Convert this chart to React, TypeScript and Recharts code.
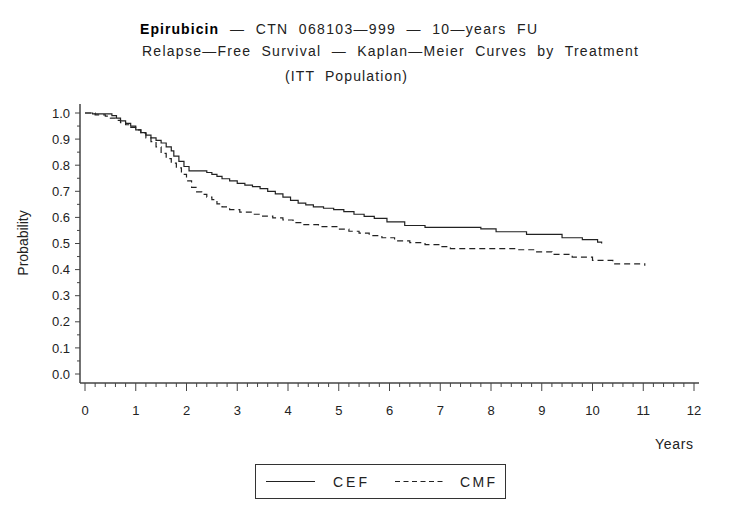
import { Legend, Line, LineChart, XAxis, YAxis } from 'recharts'

// Kaplan-Meier step points (years, probability)
const cefTime = [
    0, 0.15, 0.53, 0.62, 0.7, 0.8, 0.9, 1.0, 1.1, 1.2, 1.3, 1.4, 1.5, 1.6, 1.7,
    1.75, 1.85, 1.95, 2.05, 2.4, 2.5, 2.6, 2.7, 2.85, 3.0, 3.15, 3.3, 3.45, 3.6,
    3.75, 3.9, 4.05, 4.2, 4.35, 4.5, 4.7, 4.9, 5.1, 5.3, 5.5, 5.7, 5.95, 6.3,
    6.7, 7.8, 8.1, 8.7, 9.4, 9.8, 10.1, 10.18,
]
const cefSurv = [
    1.0, 0.997, 0.99, 0.98, 0.97, 0.96, 0.95, 0.935, 0.925, 0.915, 0.905, 0.895,
    0.885, 0.87, 0.855, 0.835, 0.815, 0.795, 0.778, 0.772, 0.765, 0.757, 0.748,
    0.74, 0.73, 0.724, 0.718, 0.71, 0.7, 0.69, 0.678, 0.665, 0.655, 0.648, 0.64,
    0.635, 0.63, 0.622, 0.612, 0.604, 0.596, 0.583, 0.569, 0.562, 0.556, 0.545,
    0.535, 0.522, 0.515, 0.505, 0.5,
]
const cmfTime = [
    0, 0.2, 0.4, 0.5, 0.6, 0.7, 0.8, 0.9, 1.0, 1.1, 1.2, 1.3, 1.4, 1.5, 1.6, 1.7,
    1.8, 1.9, 2.0, 2.1, 2.2, 2.3, 2.4, 2.5, 2.6, 2.7, 2.85, 3.05, 3.3, 3.5, 3.7,
    3.9, 4.1, 4.3, 4.6, 5.0, 5.2, 5.4, 5.6, 5.85, 6.1, 6.4, 6.7, 7.0, 7.2, 8.5,
    8.9, 9.2, 9.6, 10.0, 10.4, 11.03,
]
const cmfSurv = [
    1.0, 0.993, 0.988, 0.98, 0.972, 0.963, 0.955, 0.945, 0.935, 0.922, 0.905,
    0.89, 0.87, 0.845, 0.825, 0.808, 0.79, 0.765, 0.74, 0.715, 0.698, 0.688,
    0.678, 0.668, 0.652, 0.64, 0.63, 0.62, 0.612, 0.605, 0.598, 0.59, 0.58,
    0.572, 0.565, 0.555, 0.547, 0.54, 0.53, 0.522, 0.51, 0.503, 0.496, 0.488,
    0.48, 0.476, 0.468, 0.458, 0.448, 0.435, 0.422, 0.415,
]

const xMajor = [0, 1, 2, 3, 4, 5, 6, 7, 8, 9, 10, 11, 12]
const yMajor = [0, 0.1, 0.2, 0.3, 0.4, 0.5, 0.6, 0.7, 0.8, 0.9, 1.0]

const titleLine1Bold = 'Epirubicin'
const titleLine1 = '—  CTN  068103—999  —  10—years  FU'
const titleLine2 = 'Relapse—Free  Survival  —  Kaplan—Meier  Curves  by  Treatment'
const titleLine3 = '(ITT  Population)'

const cefData = cefTime.map((t, i) => ({ t, p: cefSurv[i] }))
const cmfData = cmfTime.map((t, i) => ({ t, p: cmfSurv[i] }))

const xTicks = xMajor.flatMap((m) =>
    m < 12 ? [m, m + 0.2, m + 0.4, m + 0.6, m + 0.8] : [m],
)
const yTicks = yMajor.flatMap((m) => (m < 1 ? [m, m + 0.05] : [m]))

const font = '"Liberation Sans", Arial, sans-serif'
const ink = '#222'
const frame = '#444'

const isMajor = (v: number, step: number) =>
    Math.abs(v / step - Math.round(v / step)) < 1e-6

function XTick(props: any) {
    const { x, y, payload } = props
    const major = isMajor(payload.value, 1)
    return (
        <g>
            <line x1={x} x2={x} y1={y} y2={y + (major ? 8 : 4)} stroke={frame} />
            {major && (
                <text x={x} y={y + 32} textAnchor="middle" fontSize={13} fill={ink} fontFamily={font}>
                    {Math.round(payload.value)}
                </text>
            )}
        </g>
    )
}

function YTick(props: any) {
    const { x, y, payload } = props
    const major = isMajor(payload.value, 0.1)
    return (
        <g>
            <line x1={x - (major ? 5 : 3)} x2={x} y1={y} y2={y} stroke={frame} />
            {major && (
                <text x={x - 10} y={y + 4.6} textAnchor="end" fontSize={13} fill={ink} fontFamily={font}>
                    {payload.value.toFixed(1)}
                </text>
            )}
        </g>
    )
}

function LegendBox() {
    return (
        <svg width={252} height={36} style={{ display: 'block' }}>
            <rect x={0.5} y={0.5} width={250} height={34} fill="none" stroke="#333" />
            <line x1={11} x2={60} y1={17.5} y2={17.5} stroke={ink} strokeWidth={1.2} />
            <text x={78} y={23} fontSize={14} fill={ink} fontFamily={font} textLength={34} lengthAdjust="spacing">
                CEF
            </text>
            <line x1={140} x2={189} y1={17.5} y2={17.5} stroke={ink} strokeWidth={1.2} strokeDasharray="5 3.5" />
            <text x={205} y={23} fontSize={14} fill={ink} fontFamily={font} textLength={35} lengthAdjust="spacing">
                CMF
            </text>
        </svg>
    )
}

export default function App() {
    return (
        <div style={{ position: 'absolute', left: 0, top: 0, width: 731, height: 522, background: '#fff' }}>
            <LineChart
                width={731}
                height={522}
                margin={{ top: 104, right: 32, bottom: 99, left: 20 }}
            >
                <XAxis
                    dataKey="t"
                    type="number"
                    domain={[0, 12]}
                    ticks={xTicks}
                    interval={0}
                    padding={{ left: 5, right: 5 }}
                    height={40}
                    tickSize={0}
                    tickMargin={0}
                    tickLine={false}
                    tick={<XTick />}
                    axisLine={{ stroke: frame, strokeWidth: 1.5 }}
                />
                <XAxis
                    xAxisId="top"
                    orientation="top"
                    type="number"
                    domain={[0, 12]}
                    height={0}
                    tick={false}
                    tickLine={false}
                    axisLine={{ stroke: frame, strokeWidth: 1.5 }}
                />
                <YAxis
                    type="number"
                    domain={[0, 1]}
                    ticks={yTicks}
                    interval={0}
                    padding={{ top: 9, bottom: 9 }}
                    width={60}
                    tickSize={0}
                    tickMargin={0}
                    tickLine={false}
                    tick={<YTick />}
                    axisLine={{ stroke: frame, strokeWidth: 1.5 }}
                />
                <YAxis
                    yAxisId="right"
                    orientation="right"
                    type="number"
                    domain={[0, 1]}
                    width={0}
                    tick={false}
                    tickLine={false}
                    axisLine={{ stroke: frame, strokeWidth: 1.5 }}
                />
                <Legend
                    layout="horizontal"
                    verticalAlign="middle"
                    align="center"
                    content={() => <LegendBox />}
                    wrapperStyle={{ left: 255, top: 464, width: 252, height: 36 }}
                />
                <Line
                    data={cefData}
                    dataKey="p"
                    name="CEF"
                    type="stepAfter"
                    stroke={ink}
                    strokeWidth={1.2}
                    dot={false}
                    activeDot={false}
                    isAnimationActive={false}
                />
                <Line
                    data={cmfData}
                    dataKey="p"
                    name="CMF"
                    type="stepAfter"
                    stroke={ink}
                    strokeWidth={1.2}
                    strokeDasharray="6 4"
                    dot={false}
                    activeDot={false}
                    isAnimationActive={false}
                />
            </LineChart>
            <svg
                width={731}
                height={522}
                style={{ position: 'absolute', left: 0, top: 0, pointerEvents: 'none' }}
                fontFamily={font}
                fill={ink}
            >
                <text x={140} y={33.5} fontSize={14} fontWeight="bold" fill="#000" textLength={78} lengthAdjust="spacing">
                    {titleLine1Bold}
                </text>
                <text x={230} y={33.5} fontSize={14} textLength={307} lengthAdjust="spacing" xmlSpace="preserve">
                    {titleLine1}
                </text>
                <text x={142} y={56} fontSize={14} textLength={496} lengthAdjust="spacing" xmlSpace="preserve">
                    {titleLine2}
                </text>
                <text x={285} y={81} fontSize={14} textLength={122} lengthAdjust="spacing" xmlSpace="preserve">
                    {titleLine3}
                </text>
                <text x={655} y={449} fontSize={14} textLength={38} lengthAdjust="spacing">
                    Years
                </text>
                <text x={28} y={243} fontSize={14} textAnchor="middle" transform="rotate(-90 28 243)">
                    Probability
                </text>
            </svg>
        </div>
    )
}
